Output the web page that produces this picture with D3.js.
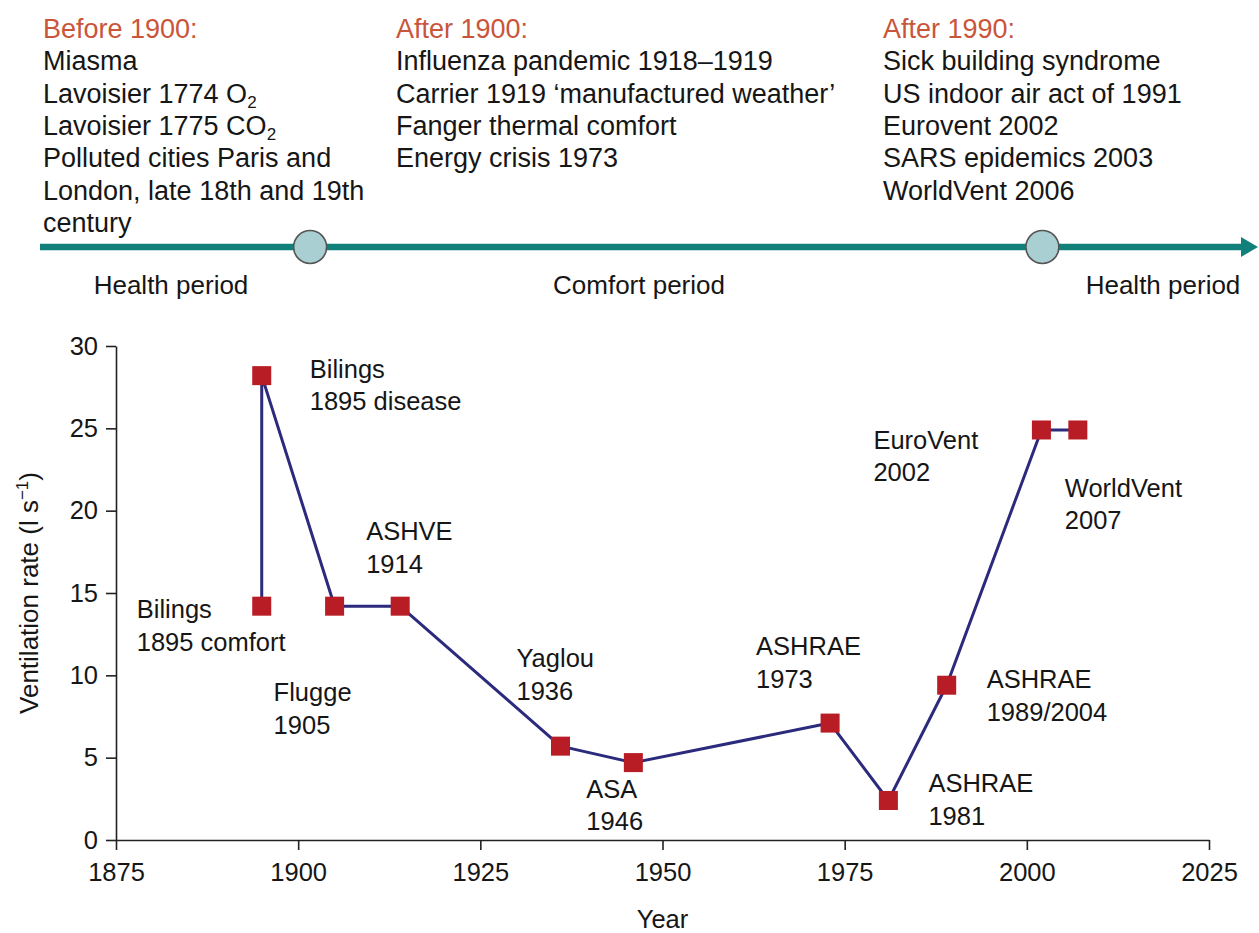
<!DOCTYPE html>
<html>
<head>
<meta charset="utf-8">
<script src="https://cdn.jsdelivr.net/npm/d3@7"></script>
<style>
  body { margin: 0; background: #fff; }
  svg { display: block; font-family: "Liberation Sans", Arial, Helvetica, sans-serif; }
</style>
</head>
<body>
<div id="chart"></div>
<script>
// Ventilation rate history - timeline + standards chart

// top timeline text
const eraHeadings = ['Before 1900:', 'After 1900:', 'After 1990:'];
const eraEvents = [
  ['Miasma', 'Lavoisier 1774 O_2', 'Lavoisier 1775 CO_2', 'Polluted cities Paris and', 'London, late 18th and 19th', 'century'],
  ['Influenza pandemic 1918\u20131919', 'Carrier 1919 \u2018manufactured weather\u2019', 'Fanger thermal comfort', 'Energy crisis 1973'],
  ['Sick building syndrome', 'US indoor air act of 1991', 'Eurovent 2002', 'SARS epidemics 2003', 'WorldVent 2006']
];
const periodLabels = ['Health period', 'Comfort period', 'Health period'];
const periodBoundaries = [1900, 1990];

// chart data (in drawing order)
const years = [1895, 1895, 1905, 1914, 1936, 1946, 1973, 1981, 1989, 2002, 2007];
const rates = [14.2, 28.2, 14.2, 14.2, 5.7, 4.7, 7.1, 2.4, 9.4, 24.9, 24.9];
const pointLabels = [
  ['Bilings', '1895 comfort'], ['Bilings', '1895 disease'], ['Flugge', '1905'], ['ASHVE', '1914'],
  ['Yaglou', '1936'], ['ASA', '1946'], ['ASHRAE', '1973'], ['ASHRAE', '1981'],
  ['ASHRAE', '1989/2004'], ['EuroVent', '2002'], ['WorldVent', '2007']
];
const xTicks = [1875, 1900, 1925, 1950, 1975, 2000, 2025];
const yTicks = [0, 5, 10, 15, 20, 25, 30];

// label placement relative to each marker (px)
const labelOffsets = [
  [-125, 12], [48, 2], [-61, 95], [-34, -66], [-44, -79], [-47, 35],
  [-74, -68], [40, -8], [40, 3], [-168, 19], [-13, 67]
];

const width = 1259, height = 933;
const ink = '#161616';
const headColor = '#c9553a';
const teal = '#12807a';

const svg = d3.select('#chart').append('svg')
  .attr('width', width)
  .attr('height', height);

// ---- top timeline ----
const colX = [43, 396, 883];
const baseY = 38, lineH = 32.3;

colX.forEach((x, i) => {
  svg.append('text')
    .attr('x', x).attr('y', baseY)
    .attr('font-size', 27)
    .attr('fill', headColor)
    .text(eraHeadings[i]);

  eraEvents[i].forEach((ev, j) => {
    const t = svg.append('text')
      .attr('x', x).attr('y', baseY + (j + 1) * lineH)
      .attr('font-size', 27)
      .attr('fill', ink);
    // "_2" means subscript 2
    const parts = ev.split(/_(\d)/);
    parts.forEach((p, k) => {
      if (!p) return;
      if (k % 2 === 1) {
        t.append('tspan').attr('font-size', 17).attr('dy', 5).text(p);
      } else {
        t.append('tspan').text(p);
      }
    });
  });
});

const tlX = d3.scaleLinear().domain([1866.8, 2016.5]).range([40, 1258]);
const tlY = 247;

svg.append('line')
  .attr('x1', tlX.range()[0]).attr('x2', tlX.range()[1] - 14)
  .attr('y1', tlY).attr('y2', tlY)
  .attr('stroke', teal)
  .attr('stroke-width', 6.5);

const tip = tlX.range()[1];
svg.append('path')
  .attr('d', `M${tip - 17},${tlY - 10}L${tip},${tlY}L${tip - 17},${tlY + 10}Z`)
  .attr('fill', teal);

svg.selectAll('.boundary')
  .data(periodBoundaries)
  .enter()
  .append('circle')
  .attr('class', 'boundary')
  .attr('cx', d => tlX(d))
  .attr('cy', tlY)
  .attr('r', 16.5)
  .attr('fill', '#a9cfd3')
  .attr('stroke', '#555')
  .attr('stroke-width', 1.6);

const periodX = [171, 639, 1163];
periodLabels.forEach((p, i) => {
  svg.append('text')
    .attr('x', periodX[i]).attr('y', 294)
    .attr('text-anchor', 'middle')
    .attr('font-size', 26)
    .attr('fill', ink)
    .text(p);
});

// ---- chart ----
const x = d3.scaleLinear().domain([1875, 2025]).range([116, 1209]);
const y = d3.scaleLinear().domain([0, 30]).range([840, 346]);

const xAxis = svg.append('g')
  .attr('transform', `translate(0,${y(0)})`)
  .call(d3.axisBottom(x).tickValues(xTicks).tickFormat(d3.format('d'))
    .tickSize(10).tickSizeOuter(0).tickPadding(13));

const yAxis = svg.append('g')
  .attr('transform', `translate(${x(1875)},0)`)
  .call(d3.axisLeft(y).tickValues(yTicks).tickSize(10).tickSizeOuter(0).tickPadding(8));

[xAxis, yAxis].forEach(g => {
  g.select('.domain').attr('stroke', '#222').attr('stroke-width', 1.6);
  g.selectAll('.tick line').attr('stroke', '#222').attr('stroke-width', 1.6);
  g.selectAll('.tick text')
    .attr('fill', ink)
    .attr('font-size', 25.5)
    .attr('font-family', '"Liberation Sans", Arial, Helvetica, sans-serif');
});

svg.append('text')
  .attr('x', (x.range()[0] + x.range()[1]) / 2)
  .attr('y', 928)
  .attr('text-anchor', 'middle')
  .attr('font-size', 25.5)
  .attr('fill', ink)
  .text('Year');

const yTitle = svg.append('text')
  .attr('transform', `translate(38,${(y.range()[0] + y.range()[1]) / 2}) rotate(-90)`)
  .attr('text-anchor', 'middle')
  .attr('font-size', 26)
  .attr('fill', ink);
yTitle.append('tspan').text('Ventilation rate (l s');
yTitle.append('tspan').attr('font-size', 17).attr('dy', -10).text('\u22121');
yTitle.append('tspan').attr('dy', 10).text(')');

const pts = years.map((yr, i) => ({ year: yr, rate: rates[i], label: pointLabels[i], off: labelOffsets[i] }));

svg.append('path')
  .datum(pts)
  .attr('fill', 'none')
  .attr('stroke', '#2b2a7c')
  .attr('stroke-width', 3)
  .attr('stroke-linejoin', 'round')
  .attr('d', d3.line().x(d => x(d.year)).y(d => y(d.rate)));

const ms = 19;
svg.selectAll('.marker')
  .data(pts)
  .enter()
  .append('rect')
  .attr('class', 'marker')
  .attr('x', d => x(d.year) - ms / 2)
  .attr('y', d => y(d.rate) - ms / 2)
  .attr('width', ms)
  .attr('height', ms)
  .attr('fill', '#b81c24');

pts.forEach(d => {
  const t = svg.append('text')
    .attr('font-size', 25.5)
    .attr('fill', ink);
  d.label.forEach((line, j) => {
    t.append('tspan')
      .attr('x', x(d.year) + d.off[0])
      .attr('y', y(d.rate) + d.off[1] + j * 32.5)
      .text(line);
  });
});
</script>
</body>
</html>
